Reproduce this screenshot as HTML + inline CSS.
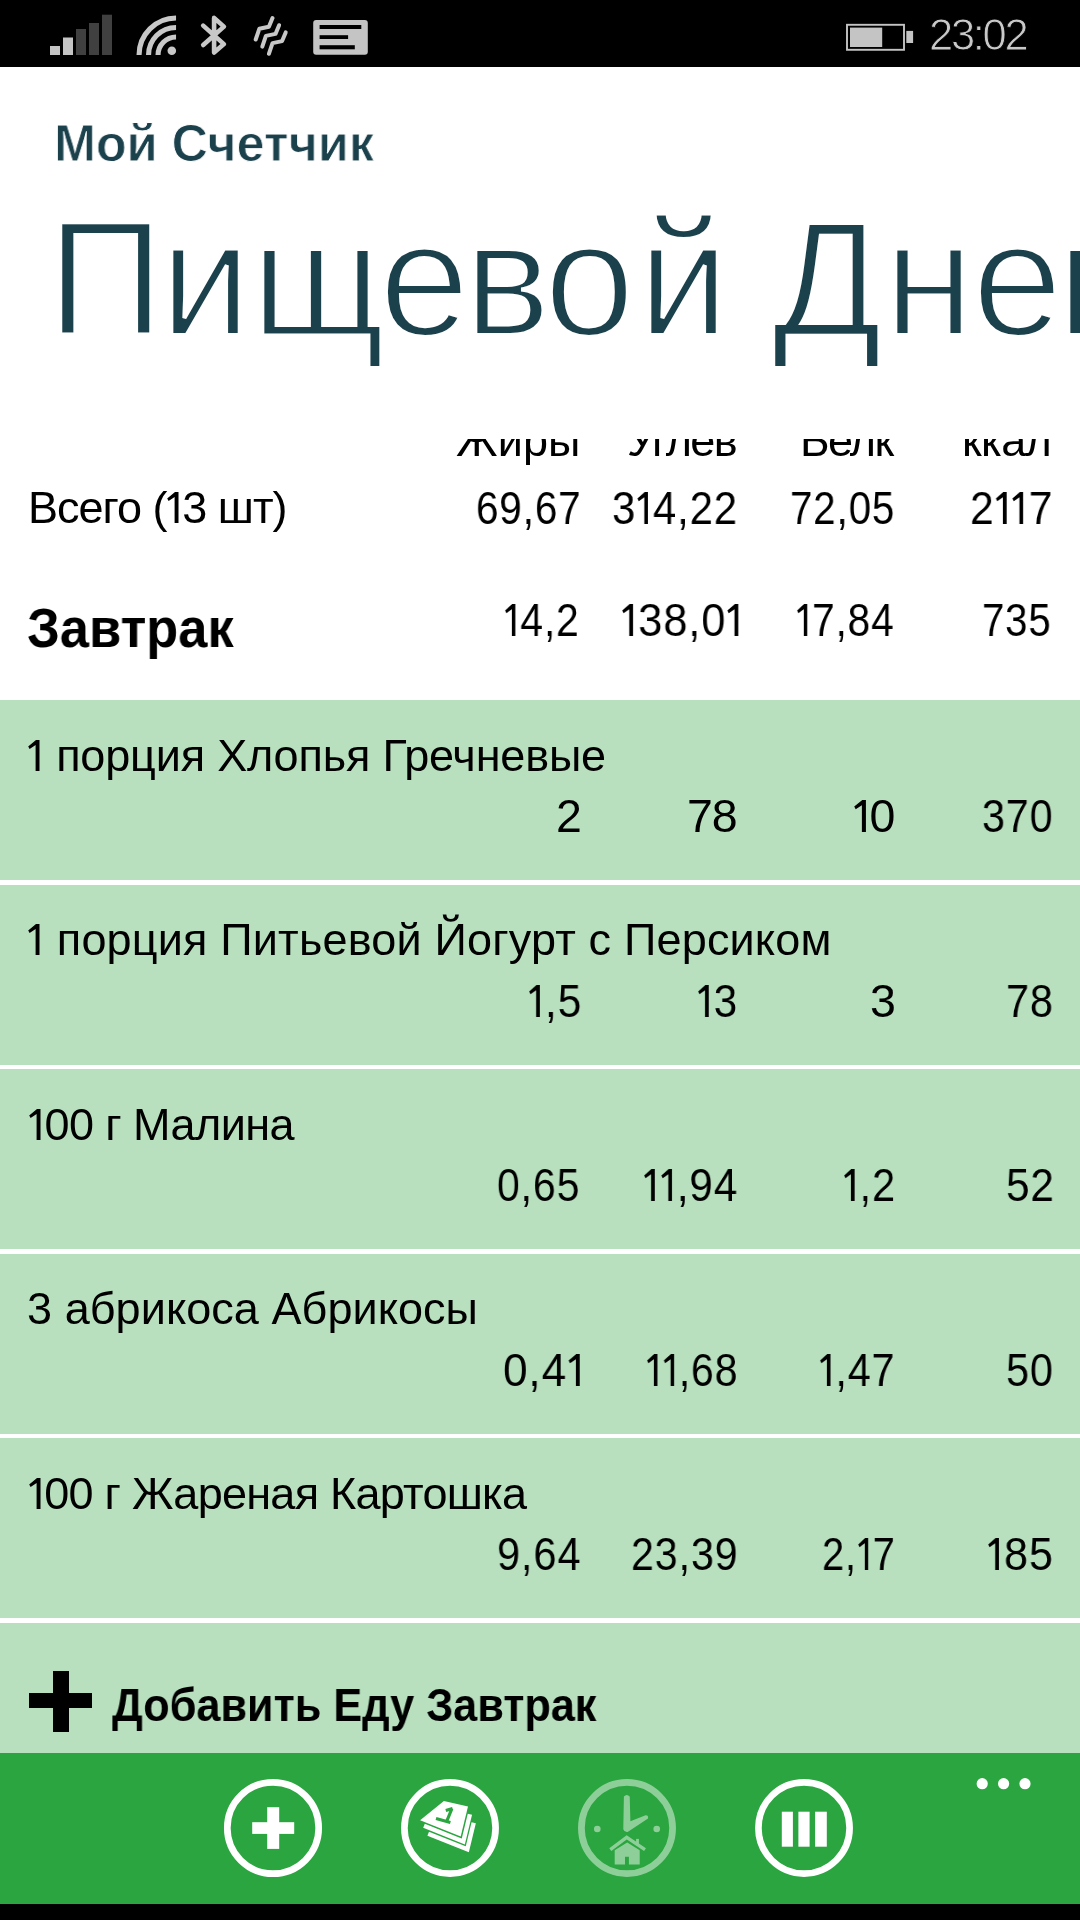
<!DOCTYPE html><html><head><meta charset="utf-8"><style>
*{margin:0;padding:0;box-sizing:border-box}
html,body{width:1080px;height:1920px;overflow:hidden;background:#fff}
body{position:relative;font-family:"Liberation Sans",sans-serif}
.t{position:absolute;white-space:nowrap;will-change:transform}
.a{position:absolute}
</style></head><body>
<div class="a" style="left:0;top:0;width:1080px;height:67px;background:#000"></div>
<svg class="a" style="left:0;top:0" width="1080" height="67" viewBox="0 0 1080 67">
<g fill="#c4c4c4">
<rect x="50" y="46" width="10" height="9"/>
<rect x="63" y="37.5" width="10" height="17.5"/>
</g>
<g fill="#404040">
<rect x="76" y="29" width="10" height="26"/>
<rect x="89" y="23" width="10" height="32"/>
<rect x="102" y="14.7" width="10" height="40.3"/>
</g>
<g fill="none" stroke="#c8c8c8" stroke-width="5.1">
<path d="M139.05 55 A37 37 0 0 1 176.05 18"/>
<path d="M148.55 55 A27.5 27.5 0 0 1 176.05 27.5"/>
<path d="M158.05 55 A18 18 0 0 1 176.05 37"/>
</g>
<circle cx="171.8" cy="50.7" r="4.3" fill="#c8c8c8"/>
<path d="M203.2 25.6 L223.9 44.1 L214.1 52.5 L214.1 17.9 L223.9 26.6 L203.2 45" fill="none" stroke="#c8c8c8" stroke-width="4.6" stroke-linecap="round" stroke-linejoin="round"/>
<g fill="none" stroke="#c8c8c8" stroke-width="4" stroke-linecap="round" stroke-linejoin="round">
<path d="M255.7 39.5 L259.3 28.8 L268.9 26.8 L272.5 18.1"/>
<path d="M262.3 46.6 L265.9 35.9 L275.5 33.9 L279.1 25.2"/>
<path d="M268.9 53.8 L272.5 43.1 L282.1 41.1 L285.7 32.4"/>
</g>
<rect x="313.2" y="20.1" width="54.6" height="34.7" rx="3" fill="#c4c4c4"/>
<g fill="#000">
<rect x="319.6" y="25" width="41.7" height="4"/>
<rect x="319.6" y="35.2" width="28.5" height="3.8"/>
<rect x="319.6" y="45.2" width="35.2" height="4.1"/>
</g>
<rect x="847" y="24.8" width="57" height="25" fill="none" stroke="#c4c4c4" stroke-width="1.9"/>
<rect x="850" y="27.6" width="32.2" height="19.4" fill="#c4c4c4"/>
<rect x="906.3" y="30.9" width="6.8" height="12.1" fill="#c4c4c4"/>
</svg>
<div class="t" style="left:54.4px;top:116.7px;font-size:52px;line-height:52px;font-weight:700;letter-spacing:0px;color:#1b414d;-webkit-text-stroke:0.9px #fff;transform:scaleX(0.9683);transform-origin:0 0;">Мой Счетчик</div>
<div class="t" style="left:929.2px;top:14.0px;font-size:43.5px;line-height:43.5px;font-weight:400;letter-spacing:-2.3px;color:#c8c8c8;-webkit-text-stroke:0.9px #000;">23:02</div>
<div class="t" style="left:46.7px;top:197.0px;font-size:163px;line-height:163px;color:#1b414d;-webkit-text-stroke:4px #fff;paint-order:normal">П</div>
<div class="t" style="left:159.7px;top:197.0px;font-size:163px;line-height:163px;color:#1b414d;-webkit-text-stroke:4px #fff;paint-order:normal">и</div>
<div class="t" style="left:251.0px;top:197.0px;font-size:163px;line-height:163px;color:#1b414d;-webkit-text-stroke:4px #fff;paint-order:normal">щ</div>
<div class="t" style="left:379.3px;top:197.0px;font-size:163px;line-height:163px;color:#1b414d;-webkit-text-stroke:4px #fff;paint-order:normal">е</div>
<div class="t" style="left:463.7px;top:197.0px;font-size:163px;line-height:163px;color:#1b414d;-webkit-text-stroke:4px #fff;paint-order:normal">в</div>
<div class="t" style="left:544.0px;top:197.0px;font-size:163px;line-height:163px;color:#1b414d;-webkit-text-stroke:4px #fff;paint-order:normal">о</div>
<div class="t" style="left:637.7px;top:197.0px;font-size:163px;line-height:163px;color:#1b414d;-webkit-text-stroke:4px #fff;paint-order:normal">й</div>
<div class="t" style="left:771.6px;top:197.0px;font-size:163px;line-height:163px;color:#1b414d;-webkit-text-stroke:4px #fff;paint-order:normal">Д</div>
<div class="t" style="left:884.0px;top:197.0px;font-size:163px;line-height:163px;color:#1b414d;-webkit-text-stroke:4px #fff;paint-order:normal">н</div>
<div class="t" style="left:971.6px;top:197.0px;font-size:163px;line-height:163px;color:#1b414d;-webkit-text-stroke:4px #fff;paint-order:normal">е</div>
<div class="t" style="left:1056.6px;top:197.0px;font-size:163px;line-height:163px;color:#1b414d;-webkit-text-stroke:4px #fff;paint-order:normal">в</div>
<div class="a" style="left:0;top:438.7px;width:1080px;height:1314.3px;overflow:hidden">
<div class="a" style="left:0;top:-438.7px;width:1080px;height:1920px">
<div class="a" style="left:0;top:700px;width:1080px;height:1053px;background:#b8e0bf"></div>
<div class="a" style="left:0;top:880.0px;width:1080px;height:4.5px;background:#fff"></div>
<div class="a" style="left:0;top:1064.5px;width:1080px;height:4.5px;background:#fff"></div>
<div class="a" style="left:0;top:1249.0px;width:1080px;height:4.5px;background:#fff"></div>
<div class="a" style="left:0;top:1433.5px;width:1080px;height:4.5px;background:#fff"></div>
<div class="a" style="left:0;top:1618.0px;width:1080px;height:4.5px;background:#fff"></div>
<div class="t" style="left:455.9px;top:417.6px;font-size:45px;line-height:45px;font-weight:400;letter-spacing:0.1px;color:#000;">Жиры</div>
<div class="t" style="left:627.2px;top:417.6px;font-size:45px;line-height:45px;font-weight:400;letter-spacing:-1.65px;color:#000;">Углев</div>
<div class="t" style="left:799.9px;top:417.6px;font-size:45px;line-height:45px;font-weight:400;letter-spacing:-1.633px;color:#000;">Белк</div>
<div class="t" style="left:962.4px;top:417.6px;font-size:45px;line-height:45px;font-weight:400;letter-spacing:-0.6px;color:#000;">ккал</div>
<div class="t" style="left:27.7px;top:485.1px;font-size:45px;line-height:45px;font-weight:400;letter-spacing:-1.017px;color:#000;">Всего (<svg width="17.00" height="31.00" style="margin-right:-1.017px;vertical-align:baseline;overflow:visible"><polygon points="12.50,0.00 12.50,31.00 8.60,31.00 8.60,5.00 2.60,9.00 1.20,6.40 9.00,0.00" fill="currentColor"/></svg>3 шт)</div>
<div class="t" style="left:475.5px;top:484.9px;font-size:46.5px;line-height:46.5px;font-weight:400;letter-spacing:1.0px;color:#000;transform:scaleX(0.8690);transform-origin:0 0;">69,67</div>
<div class="t" style="left:612.4px;top:484.9px;font-size:46.5px;line-height:46.5px;font-weight:400;letter-spacing:1.0px;color:#000;transform:scaleX(0.9007);transform-origin:0 0;">3<svg width="17.57" height="32.03" style="margin-right:1.0px;vertical-align:baseline;overflow:visible"><polygon points="12.92,0.00 12.92,32.03 8.89,32.03 8.89,5.17 2.69,9.30 1.24,6.61 9.30,0.00" fill="currentColor"/></svg>4,22</div>
<div class="t" style="left:790.0px;top:484.9px;font-size:46.5px;line-height:46.5px;font-weight:400;letter-spacing:1.0px;color:#000;transform:scaleX(0.8664);transform-origin:0 0;">72,05</div>
<div class="t" style="left:970.4px;top:484.9px;font-size:46.5px;line-height:46.5px;font-weight:400;letter-spacing:1.0px;color:#000;transform:scaleX(0.9174);transform-origin:0 0;">2<svg width="17.57" height="32.03" style="margin-right:1.0px;vertical-align:baseline;overflow:visible"><polygon points="12.92,0.00 12.92,32.03 8.89,32.03 8.89,5.17 2.69,9.30 1.24,6.61 9.30,0.00" fill="currentColor"/></svg><svg width="17.57" height="32.03" style="margin-right:1.0px;vertical-align:baseline;overflow:visible"><polygon points="12.92,0.00 12.92,32.03 8.89,32.03 8.89,5.17 2.69,9.30 1.24,6.61 9.30,0.00" fill="currentColor"/></svg>7</div>
<div class="t" style="left:27.1px;top:599.5px;font-size:56px;line-height:56px;font-weight:700;letter-spacing:0px;color:#000;transform:scaleX(0.9361);transform-origin:0 0;">Завтрак</div>
<div class="t" style="left:504.1px;top:597.0px;font-size:46.5px;line-height:46.5px;font-weight:400;letter-spacing:1.0px;color:#000;transform:scaleX(0.8780);transform-origin:0 0;"><svg width="17.57" height="32.03" style="margin-right:1.0px;vertical-align:baseline;overflow:visible"><polygon points="12.92,0.00 12.92,32.03 8.89,32.03 8.89,5.17 2.69,9.30 1.24,6.61 9.30,0.00" fill="currentColor"/></svg>4,2</div>
<div class="t" style="left:620.7px;top:597.0px;font-size:46.5px;line-height:46.5px;font-weight:400;letter-spacing:1.0px;color:#000;transform:scaleX(0.9312);transform-origin:0 0;"><svg width="17.57" height="32.03" style="margin-right:1.0px;vertical-align:baseline;overflow:visible"><polygon points="12.92,0.00 12.92,32.03 8.89,32.03 8.89,5.17 2.69,9.30 1.24,6.61 9.30,0.00" fill="currentColor"/></svg>38,0<svg width="17.57" height="32.03" style="margin-right:1.0px;vertical-align:baseline;overflow:visible"><polygon points="12.92,0.00 12.92,32.03 8.89,32.03 8.89,5.17 2.69,9.30 1.24,6.61 9.30,0.00" fill="currentColor"/></svg></div>
<div class="t" style="left:796.1px;top:597.0px;font-size:46.5px;line-height:46.5px;font-weight:400;letter-spacing:1.0px;color:#000;transform:scaleX(0.8709);transform-origin:0 0;"><svg width="17.57" height="32.03" style="margin-right:1.0px;vertical-align:baseline;overflow:visible"><polygon points="12.92,0.00 12.92,32.03 8.89,32.03 8.89,5.17 2.69,9.30 1.24,6.61 9.30,0.00" fill="currentColor"/></svg>7,84</div>
<div class="t" style="left:982.3px;top:597.0px;font-size:46.5px;line-height:46.5px;font-weight:400;letter-spacing:1.0px;color:#000;transform:scaleX(0.8632);transform-origin:0 0;">735</div>
<div class="t" style="left:27.3px;top:732.8px;font-size:45px;line-height:45px;font-weight:400;letter-spacing:-0.171px;color:#000;"><svg width="17.00" height="31.00" style="margin-right:-0.171px;vertical-align:baseline;overflow:visible"><polygon points="12.50,0.00 12.50,31.00 8.60,31.00 8.60,5.00 2.60,9.00 1.20,6.40 9.00,0.00" fill="currentColor"/></svg> порция Хлопья Гречневые</div>
<div class="t" style="left:555.5px;top:793.0px;font-size:46.5px;line-height:46.5px;font-weight:400;letter-spacing:-1.2px;color:#000;">2</div>
<div class="t" style="left:687.0px;top:793.0px;font-size:46.5px;line-height:46.5px;font-weight:400;letter-spacing:-1.2px;color:#000;">78</div>
<div class="t" style="left:853.0px;top:793.0px;font-size:46.5px;line-height:46.5px;font-weight:400;letter-spacing:-1.2px;color:#000;"><svg width="17.57" height="32.03" style="margin-right:-1.2px;vertical-align:baseline;overflow:visible"><polygon points="12.92,0.00 12.92,32.03 8.89,32.03 8.89,5.17 2.69,9.30 1.24,6.61 9.30,0.00" fill="currentColor"/></svg>0</div>
<div class="t" style="left:981.9px;top:793.0px;font-size:46.5px;line-height:46.5px;font-weight:400;letter-spacing:1.0px;color:#000;transform:scaleX(0.8868);transform-origin:0 0;">370</div>
<div class="t" style="left:27.3px;top:917.3px;font-size:45px;line-height:45px;font-weight:400;letter-spacing:0.174px;color:#000;"><svg width="17.00" height="31.00" style="margin-right:0.174px;vertical-align:baseline;overflow:visible"><polygon points="12.50,0.00 12.50,31.00 8.60,31.00 8.60,5.00 2.60,9.00 1.20,6.40 9.00,0.00" fill="currentColor"/></svg> порция Питьевой Йогурт с Персиком</div>
<div class="t" style="left:528.3px;top:977.5px;font-size:46.5px;line-height:46.5px;font-weight:400;letter-spacing:1.0px;color:#000;transform:scaleX(0.9145);transform-origin:0 0;"><svg width="17.57" height="32.03" style="margin-right:1.0px;vertical-align:baseline;overflow:visible"><polygon points="12.92,0.00 12.92,32.03 8.89,32.03 8.89,5.17 2.69,9.30 1.24,6.61 9.30,0.00" fill="currentColor"/></svg>,5</div>
<div class="t" style="left:696.6px;top:977.5px;font-size:46.5px;line-height:46.5px;font-weight:400;letter-spacing:1.0px;color:#000;transform:scaleX(0.9049);transform-origin:0 0;"><svg width="17.57" height="32.03" style="margin-right:1.0px;vertical-align:baseline;overflow:visible"><polygon points="12.92,0.00 12.92,32.03 8.89,32.03 8.89,5.17 2.69,9.30 1.24,6.61 9.30,0.00" fill="currentColor"/></svg>3</div>
<div class="t" style="left:870.3px;top:977.5px;font-size:46.5px;line-height:46.5px;font-weight:400;letter-spacing:-1.2px;color:#000;">3</div>
<div class="t" style="left:1005.5px;top:977.5px;font-size:46.5px;line-height:46.5px;font-weight:400;letter-spacing:1.0px;color:#000;transform:scaleX(0.8918);transform-origin:0 0;">78</div>
<div class="t" style="left:27.9px;top:1101.8px;font-size:45px;line-height:45px;font-weight:400;letter-spacing:-0.564px;color:#000;"><svg width="17.00" height="31.00" style="margin-right:-0.564px;vertical-align:baseline;overflow:visible"><polygon points="12.50,0.00 12.50,31.00 8.60,31.00 8.60,5.00 2.60,9.00 1.20,6.40 9.00,0.00" fill="currentColor"/></svg>00 г Малина</div>
<div class="t" style="left:497.3px;top:1162.0px;font-size:46.5px;line-height:46.5px;font-weight:400;letter-spacing:1.0px;color:#000;transform:scaleX(0.8811);transform-origin:0 0;">0,65</div>
<div class="t" style="left:643.1px;top:1162.0px;font-size:46.5px;line-height:46.5px;font-weight:400;letter-spacing:1.0px;color:#000;transform:scaleX(0.9079);transform-origin:0 0;"><svg width="17.57" height="32.03" style="margin-right:1.0px;vertical-align:baseline;overflow:visible"><polygon points="12.92,0.00 12.92,32.03 8.89,32.03 8.89,5.17 2.69,9.30 1.24,6.61 9.30,0.00" fill="currentColor"/></svg><svg width="17.57" height="32.03" style="margin-right:1.0px;vertical-align:baseline;overflow:visible"><polygon points="12.92,0.00 12.92,32.03 8.89,32.03 8.89,5.17 2.69,9.30 1.24,6.61 9.30,0.00" fill="currentColor"/></svg>,94</div>
<div class="t" style="left:842.5px;top:1162.0px;font-size:46.5px;line-height:46.5px;font-weight:400;letter-spacing:1.0px;color:#000;transform:scaleX(0.8945);transform-origin:0 0;"><svg width="17.57" height="32.03" style="margin-right:1.0px;vertical-align:baseline;overflow:visible"><polygon points="12.92,0.00 12.92,32.03 8.89,32.03 8.89,5.17 2.69,9.30 1.24,6.61 9.30,0.00" fill="currentColor"/></svg>,2</div>
<div class="t" style="left:1005.5px;top:1162.0px;font-size:46.5px;line-height:46.5px;font-weight:400;letter-spacing:1.0px;color:#000;transform:scaleX(0.9104);transform-origin:0 0;">52</div>
<div class="t" style="left:27.4px;top:1286.3px;font-size:45px;line-height:45px;font-weight:400;letter-spacing:0.067px;color:#000;">3 абрикоса Абрикосы</div>
<div class="t" style="left:502.7px;top:1346.5px;font-size:46.5px;line-height:46.5px;font-weight:400;letter-spacing:1.0px;color:#000;transform:scaleX(0.9481);transform-origin:0 0;">0,4<svg width="17.57" height="32.03" style="margin-right:1.0px;vertical-align:baseline;overflow:visible"><polygon points="12.92,0.00 12.92,32.03 8.89,32.03 8.89,5.17 2.69,9.30 1.24,6.61 9.30,0.00" fill="currentColor"/></svg></div>
<div class="t" style="left:645.8px;top:1346.5px;font-size:46.5px;line-height:46.5px;font-weight:400;letter-spacing:1.0px;color:#000;transform:scaleX(0.8812);transform-origin:0 0;"><svg width="17.57" height="32.03" style="margin-right:1.0px;vertical-align:baseline;overflow:visible"><polygon points="12.92,0.00 12.92,32.03 8.89,32.03 8.89,5.17 2.69,9.30 1.24,6.61 9.30,0.00" fill="currentColor"/></svg><svg width="17.57" height="32.03" style="margin-right:1.0px;vertical-align:baseline;overflow:visible"><polygon points="12.92,0.00 12.92,32.03 8.89,32.03 8.89,5.17 2.69,9.30 1.24,6.61 9.30,0.00" fill="currentColor"/></svg>,68</div>
<div class="t" style="left:819.0px;top:1346.5px;font-size:46.5px;line-height:46.5px;font-weight:400;letter-spacing:1.0px;color:#000;transform:scaleX(0.8866);transform-origin:0 0;"><svg width="17.57" height="32.03" style="margin-right:1.0px;vertical-align:baseline;overflow:visible"><polygon points="12.92,0.00 12.92,32.03 8.89,32.03 8.89,5.17 2.69,9.30 1.24,6.61 9.30,0.00" fill="currentColor"/></svg>,47</div>
<div class="t" style="left:1005.5px;top:1346.5px;font-size:46.5px;line-height:46.5px;font-weight:400;letter-spacing:1.0px;color:#000;transform:scaleX(0.8918);transform-origin:0 0;">50</div>
<div class="t" style="left:28.0px;top:1470.8px;font-size:45px;line-height:45px;font-weight:400;letter-spacing:-0.738px;color:#000;"><svg width="17.00" height="31.00" style="margin-right:-0.738px;vertical-align:baseline;overflow:visible"><polygon points="12.50,0.00 12.50,31.00 8.60,31.00 8.60,5.00 2.60,9.00 1.20,6.40 9.00,0.00" fill="currentColor"/></svg>00 г Жареная Картошка</div>
<div class="t" style="left:497.3px;top:1531.0px;font-size:46.5px;line-height:46.5px;font-weight:400;letter-spacing:1.0px;color:#000;transform:scaleX(0.8933);transform-origin:0 0;">9,64</div>
<div class="t" style="left:631.2px;top:1531.0px;font-size:46.5px;line-height:46.5px;font-weight:400;letter-spacing:1.0px;color:#000;transform:scaleX(0.8853);transform-origin:0 0;">23,39</div>
<div class="t" style="left:821.5px;top:1531.0px;font-size:46.5px;line-height:46.5px;font-weight:400;letter-spacing:1.0px;color:#000;transform:scaleX(0.8568);transform-origin:0 0;">2,<svg width="17.57" height="32.03" style="margin-right:1.0px;vertical-align:baseline;overflow:visible"><polygon points="12.92,0.00 12.92,32.03 8.89,32.03 8.89,5.17 2.69,9.30 1.24,6.61 9.30,0.00" fill="currentColor"/></svg>7</div>
<div class="t" style="left:987.3px;top:1531.0px;font-size:46.5px;line-height:46.5px;font-weight:400;letter-spacing:1.0px;color:#000;transform:scaleX(0.9235);transform-origin:0 0;"><svg width="17.57" height="32.03" style="margin-right:1.0px;vertical-align:baseline;overflow:visible"><polygon points="12.92,0.00 12.92,32.03 8.89,32.03 8.89,5.17 2.69,9.30 1.24,6.61 9.30,0.00" fill="currentColor"/></svg>85</div>
<div class="t" style="left:111.7px;top:1680.5px;font-size:47px;line-height:47px;font-weight:700;letter-spacing:0px;color:#000;transform:scaleX(0.9195);transform-origin:0 0;">Добавить Еду Завтрак</div>
<div class="a" style="left:29px;top:1693px;width:63px;height:15px;background:#000;filter:blur(0.6px)"></div>
<div class="a" style="left:53px;top:1671px;width:15.5px;height:61px;background:#000;filter:blur(0.6px)"></div>
</div></div>
<div class="a" style="left:0;top:1753px;width:1080px;height:151px;background:#2aa53f"></div>
<div class="a" style="left:0;top:1904px;width:1080px;height:16px;background:#000"></div>
<svg class="a" style="left:0;top:1753px" width="1080" height="151" viewBox="0 1753 1080 151">
<g fill="none" stroke="#fff" stroke-width="6.7">
<circle cx="273" cy="1828" r="45.7"/>
<circle cx="450" cy="1828" r="45.6"/>
<circle cx="804" cy="1828" r="45.6"/>
</g>
<g fill="#fff">
<rect x="252.2" y="1822.2" width="42" height="11.7"/>
<rect x="267.2" y="1807.2" width="12" height="41.7"/>
<rect x="781.8" y="1811.7" width="11.1" height="35"/>
<rect x="798.4" y="1811.7" width="11.2" height="35"/>
<rect x="815.1" y="1811.7" width="11.7" height="35"/>
<circle cx="982.2" cy="1783.7" r="5.6"/>
<circle cx="1003.6" cy="1783.7" r="5.6"/>
<circle cx="1025" cy="1783.7" r="5.6"/>
<path d="M420.1 1820.3 L443.9 1801 L468 1806.4 L460.7 1836.5 Z"/>
</g>
<g fill="none" stroke="#fff" stroke-width="4.4" stroke-linejoin="miter">
<path d="M424 1825.8 L463.3 1841.5 L469.9 1814.3"/>
<path d="M428.2 1833.7 L467.3 1849.2 L473.7 1822.7"/>
</g>
<g fill="none" stroke="#2aa53f" stroke-width="3.1" stroke-linecap="butt">
<path d="M451.9 1808.6 L447 1820.6"/>
<path d="M436 1818.4 L450.4 1822.6"/>
<path d="M452.5 1808.4 L445.8 1810.4"/>
</g>
<g opacity="0.47">
<circle cx="627" cy="1828" r="45.6" fill="none" stroke="#fff" stroke-width="6.7"/>
<g fill="#fff">
<circle cx="597.3" cy="1829" r="3.3"/>
<circle cx="656.7" cy="1829" r="3.3"/>
<path d="M623.9 1796.6 Q626.8 1793.2 629.7 1796.6 L630.4 1821.2 L645.6 1815.2 Q648.6 1815 648 1818.4 L627.6 1831.9 Q624.4 1832.4 623.3 1829.2 Z"/>
<path d="M614.7 1850.3 L627.2 1842.5 L639.7 1850.3 L639.7 1864.4 L628.9 1864.4 L628.9 1856.7 L625 1856.7 L625 1864.4 L614.7 1864.4 Z"/>
<rect x="636.1" y="1838.9" width="2.8" height="6.5"/>
</g>
<path d="M610.3 1849.7 L626.7 1837.4 L645 1849.7" fill="none" stroke="#fff" stroke-width="3.4" stroke-linejoin="miter"/>
</g>
</svg>
</body></html>
